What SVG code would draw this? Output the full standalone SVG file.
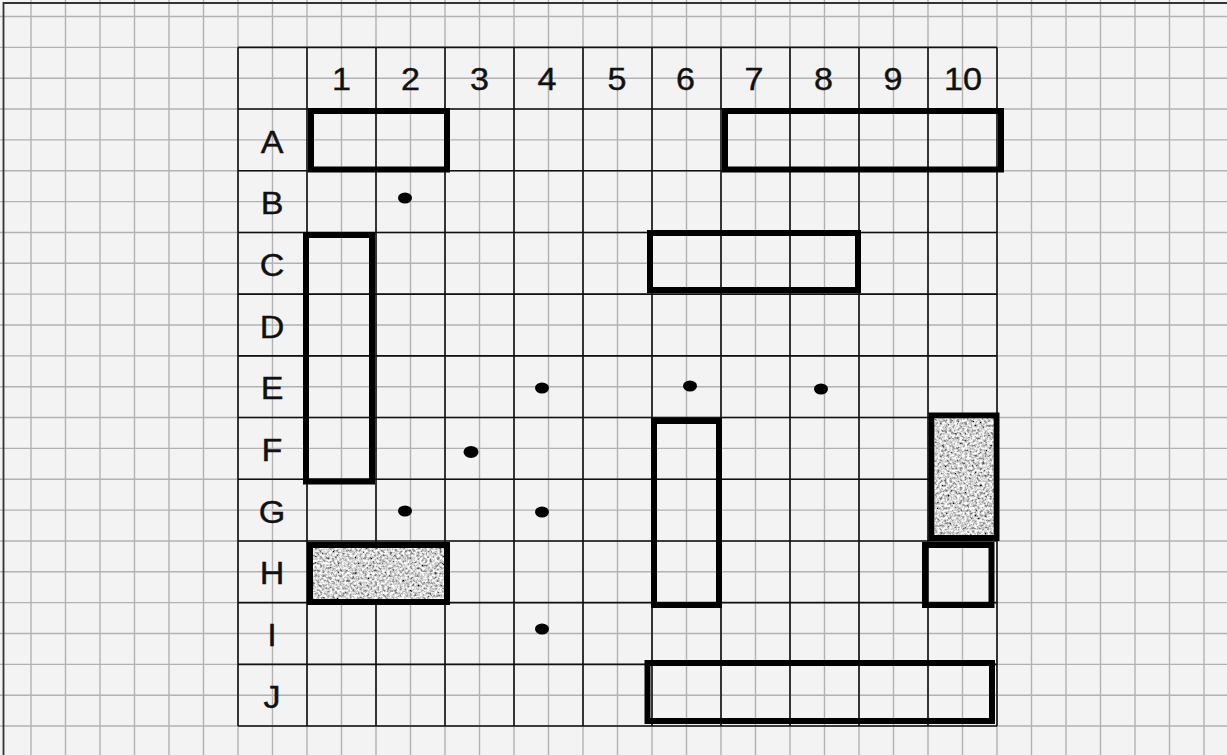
<svg xmlns="http://www.w3.org/2000/svg" width="1227" height="755" viewBox="0 0 1227 755">
<style>
.fine{stroke:#b2b2b2;stroke-width:1.4;fill:none}
.main{stroke:#111;stroke-width:1.6;fill:none}
.box{stroke:#000;stroke-width:6;fill:none}
.shade{stroke:#000;stroke-width:6;fill:#a8a8a8}
.lbl{font-family:"Liberation Sans",Arial,sans-serif;font-size:31px;fill:#111;stroke:#111;stroke-width:0.4;text-anchor:middle}
.dot{fill:#000}
</style>
<defs>
<filter id="noise" x="0" y="0" width="100%" height="100%">
<feTurbulence type="fractalNoise" baseFrequency="0.4" numOctaves="3" seed="7" result="t"/>
<feColorMatrix in="t" type="matrix" values="1.9 0 0 0 -0.3  1.9 0 0 0 -0.3  1.9 0 0 0 -0.3  0 0 0 0 1" result="n"/>
<feComposite in="n" in2="SourceGraphic" operator="in"/>
</filter>
</defs>
<rect x="0" y="0" width="1227" height="755" fill="#f3f3f3"/>
<g id="fine-grid" class="fine">
<path d="M31 0V755M65.5 0V755M100 0V755M134.5 0V755M169 0V755M203.5 0V755M238 0V755M272.5 0V755M307 0V755M341.5 0V755M376 0V755M410.5 0V755M445 0V755M479.5 0V755M514 0V755M548.5 0V755M583 0V755M617.5 0V755M652 0V755M686.5 0V755M721 0V755M755.5 0V755M790 0V755M824.5 0V755M859 0V755M893.5 0V755M928 0V755M962.5 0V755M997 0V755M1031.5 0V755M1066 0V755M1100.5 0V755M1135 0V755M1169.5 0V755M1204 0V755"/>
<path d="M0 16.5H1227M0 47.35H1227M0 78.2H1227M0 109.05H1227M0 139.9H1227M0 170.75H1227M0 201.6H1227M0 232.45H1227M0 263.3H1227M0 294.15H1227M0 325H1227M0 355.85H1227M0 386.7H1227M0 417.55H1227M0 448.4H1227M0 479.25H1227M0 510.1H1227M0 540.95H1227M0 571.8H1227M0 602.65H1227M0 633.5H1227M0 664.35H1227M0 695.2H1227M0 726.05H1227"/>
</g>
<path id="page-border" d="M3.5 755V3H1227" stroke="#333" stroke-width="1.8" fill="none"/>
<g id="main-grid" class="main">
<path d="M238 47.35V726.05M307 47.35V726.05M376 47.35V726.05M445 47.35V726.05M514 47.35V726.05M583 47.35V726.05M652 47.35V726.05M721 47.35V726.05M790 47.35V726.05M859 47.35V726.05M928 47.35V726.05M997 47.35V726.05"/>
<path d="M238 47.35H997M238 109.05H997M238 170.75H997M238 232.45H997M238 294.15H997M238 355.85H997M238 417.55H997M238 479.25H997M238 540.95H997M238 602.65H997M238 664.35H997M238 726.05H997"/>
</g>
<g id="column-labels" class="lbl">
<text transform="translate(341.5 90) scale(1.1 1)">1</text>
<text transform="translate(410.5 90) scale(1.1 1)">2</text>
<text transform="translate(479.5 90) scale(1.1 1)">3</text>
<text transform="translate(547 90) scale(1.1 1)">4</text>
<text transform="translate(617 90) scale(1.1 1)">5</text>
<text transform="translate(685.5 90) scale(1.1 1)">6</text>
<text transform="translate(754 90) scale(1.1 1)">7</text>
<text transform="translate(823.5 90) scale(1.1 1)">8</text>
<text transform="translate(893 90) scale(1.1 1)">9</text>
<text transform="translate(963 90) scale(1.1 1)">10</text>
</g>
<g id="row-labels" class="lbl">
<text transform="translate(272 152.5) scale(1.1 1)">A</text>
<text transform="translate(272 214) scale(1.1 1)">B</text>
<text transform="translate(272 276) scale(1.1 1)">C</text>
<text transform="translate(272 337.5) scale(1.1 1)">D</text>
<text transform="translate(272 399) scale(1.1 1)">E</text>
<text transform="translate(272 461) scale(1.1 1)">F</text>
<text transform="translate(272 522.5) scale(1.1 1)">G</text>
<text transform="translate(272 584) scale(1.1 1)">H</text>
<text transform="translate(272 646) scale(1.1 1)">I</text>
<text transform="translate(272 707.5) scale(1.1 1)">J</text>
</g>
<g id="ship-A1-A2"><rect class="box" x="311" y="111" width="136" height="58.5"/></g>
<g id="ship-A7-A10"><rect class="box" x="725" y="111" width="276" height="58.5"/></g>
<g id="ship-C1-F1"><rect class="box" x="306" y="235" width="66" height="246.5"/></g>
<g id="ship-C6-C8"><rect class="box" x="650" y="233" width="208" height="57"/></g>
<g id="ship-F6-H6"><rect class="box" x="654" y="421" width="65" height="184"/></g>
<g id="ship-F10-G10">
<rect class="shade" x="931.5" y="415.5" width="65" height="122.5"/>
<rect x="934.5" y="418.5" width="59" height="116.5" fill="#fff" filter="url(#noise)"/>
</g>
<g id="ship-H10"><rect class="box" x="925" y="545" width="66.5" height="60"/></g>
<g id="ship-H1-H2">
<rect class="shade" x="310" y="545" width="137" height="57"/>
<rect x="313" y="548" width="131" height="51" fill="#fff" filter="url(#noise)"/>
</g>
<g id="ship-J6-J10"><rect class="box" x="647.5" y="663" width="344.5" height="58"/></g>
<g id="shots" class="dot">
<ellipse cx="405" cy="198" rx="7" ry="5.5"/>
<ellipse cx="542" cy="388" rx="7" ry="5.5"/>
<ellipse cx="690" cy="386" rx="7" ry="5.5"/>
<ellipse cx="821" cy="389" rx="7" ry="5.5"/>
<ellipse cx="471" cy="452" rx="7.5" ry="6"/>
<ellipse cx="405" cy="511" rx="7" ry="5.5"/>
<ellipse cx="542" cy="512" rx="7" ry="5.5"/>
<ellipse cx="542" cy="629" rx="7" ry="5.5"/>
</g>
</svg>
